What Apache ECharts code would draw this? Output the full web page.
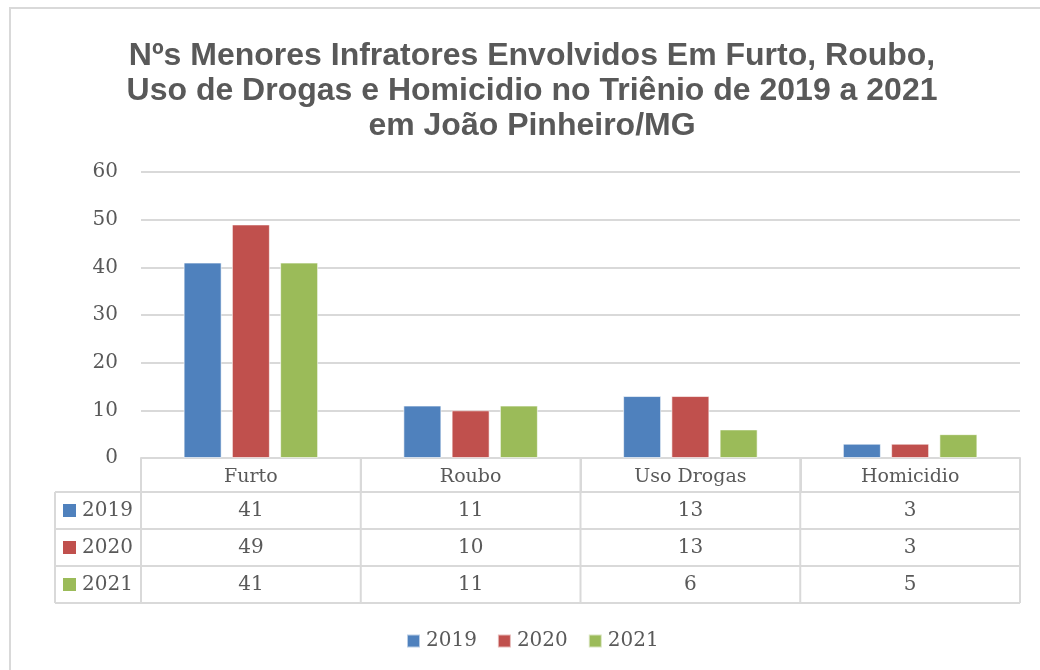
<!DOCTYPE html>
<html>
<head>
<meta charset="utf-8">
<script src="https://cdn.jsdelivr.net/npm/echarts@6/dist/echarts.min.js"></script>
<style>html,body{margin:0;padding:0;background:#fff;}#c{width:1040px;height:670px;}</style>
</head>
<body>
<div id="c"></div>
<script>
const titleText = 'Nºs Menores Infratores Envolvidos Em Furto, Roubo,\nUso de Drogas e Homicidio no Triênio de 2019 a 2021\nem João Pinheiro/MG';
const categories = ['Furto', 'Roubo', 'Uso Drogas', 'Homicidio'];
const seriesNames = ['2019', '2020', '2021'];
const values2019 = [41, 11, 13, 3];
const values2020 = [49, 10, 13, 3];
const values2021 = [41, 11, 6, 5];
const yTicks = [0, 10, 20, 30, 40, 50, 60];

const allValues = [values2019, values2020, values2021];
const colors = ['#4F81BD', '#C0504D', '#9BBB59'];
const textColor = '#595959';
const lineColor = '#D9D9D9';
const serif = '"DejaVu Serif", "Liberation Serif", serif';

const G = { left: 141, right: 20, top: 172, bottom: 212 };
const W = 1040, H = 670;
const rowH = [34, 37, 37, 37];
const tableLeft = 55;

const chart = echarts.init(document.getElementById('c'), null, { renderer: 'canvas' });

const option = {
  animation: false,
  backgroundColor: '#fff',
  title: {
    text: titleText,
    left: 532,
    top: 34,
    textAlign: 'center',
    padding: [5, 0, 5, 0],
    textStyle: {
      fontFamily: '"Liberation Sans", Arial, sans-serif',
      fontWeight: 'bold',
      fontSize: 32,
      lineHeight: 35,
      color: textColor
    }
  },
  legend: {
    data: seriesNames,
    top: 626,
    left: 401,
    icon: 'rect',
    itemWidth: 13,
    itemHeight: 13,
    itemGap: 20,
    textStyle: { fontFamily: serif, fontSize: 20, color: textColor, padding: [0, 0, 0, 1] }
  },
  grid: { left: G.left, right: G.right, top: G.top, bottom: G.bottom, containLabel: false },
  xAxis: {
    type: 'category',
    data: categories,
    axisLine: { show: true, lineStyle: { color: lineColor, width: 2 } },
    axisTick: { show: true, length: rowH[0], lineStyle: { color: lineColor, width: 2 } },
    axisLabel: { fontFamily: serif, fontSize: 19, color: textColor, margin: 10 },
    splitLine: { show: false }
  },
  yAxis: {
    type: 'value',
    min: yTicks[0],
    max: yTicks[yTicks.length - 1],
    interval: yTicks[1] - yTicks[0],
    axisLine: { show: false },
    axisTick: { show: false },
    axisLabel: { fontFamily: serif, fontSize: 20, color: textColor, margin: 23 },
    splitLine: { lineStyle: { color: lineColor, width: 2 } }
  },
  series: seriesNames.map((n, i) => ({
    name: n,
    type: 'bar',
    data: allValues[i],
    barWidth: 38,
    barGap: '27%',
    itemStyle: { color: colors[i], borderColor: 'rgba(255,255,255,0.6)', borderWidth: 1 }
  }))
};

chart.setOption(option);

function buildTable() {
  const els = [];
  els.push({ type: 'rect', shape: { x: 10, y: 8, width: 1200, height: 800 }, style: { fill: null, stroke: lineColor, lineWidth: 2 }, silent: true, z: -10 });
  const x0 = G.left, x1 = W - G.right;
  const yAxis0 = H - G.bottom;
  const band = (x1 - x0) / categories.length;
  let y = yAxis0 + rowH[0];
  const rowTops = [];
  for (let r = 0; r < seriesNames.length; r++) { rowTops.push(y); y += rowH[r + 1]; }
  const tableBottom = y;
  [yAxis0 + rowH[0]].concat(rowTops.slice(1), [tableBottom]).forEach(yy => {
    els.push({ type: 'line', shape: { x1: tableLeft, y1: yy, x2: x1, y2: yy }, style: { stroke: lineColor, lineWidth: 2 }, silent: true });
  });
  for (let c = 0; c <= categories.length; c++) {
    const xx = x0 + band * c;
    els.push({ type: 'line', shape: { x1: xx, y1: yAxis0, x2: xx, y2: tableBottom }, style: { stroke: lineColor, lineWidth: 2 }, silent: true });
  }
  els.push({ type: 'line', shape: { x1: tableLeft, y1: yAxis0 + rowH[0], x2: tableLeft, y2: tableBottom }, style: { stroke: lineColor, lineWidth: 2 }, silent: true });
  rowTops.forEach((top, r) => {
    const cy = top + rowH[r + 1] / 2;
    els.push({ type: 'rect', shape: { x: 63, y: cy - 6.5, width: 13, height: 13 }, style: { fill: colors[r] }, silent: true });
    els.push({ type: 'text', x: 82, y: cy, style: { text: seriesNames[r], font: '20px ' + serif, fill: textColor, align: 'left', verticalAlign: 'middle' }, silent: true });
    categories.forEach((cat, c) => {
      const px = chart.convertToPixel({ xAxisIndex: 0 }, cat);
      els.push({ type: 'text', x: px, y: cy, style: { text: String(allValues[r][c]), font: '20px ' + serif, fill: textColor, align: 'center', verticalAlign: 'middle' }, silent: true });
    });
  });
  chart.setOption({ graphic: { elements: els } });
}
buildTable();
</script>
</body>
</html>
